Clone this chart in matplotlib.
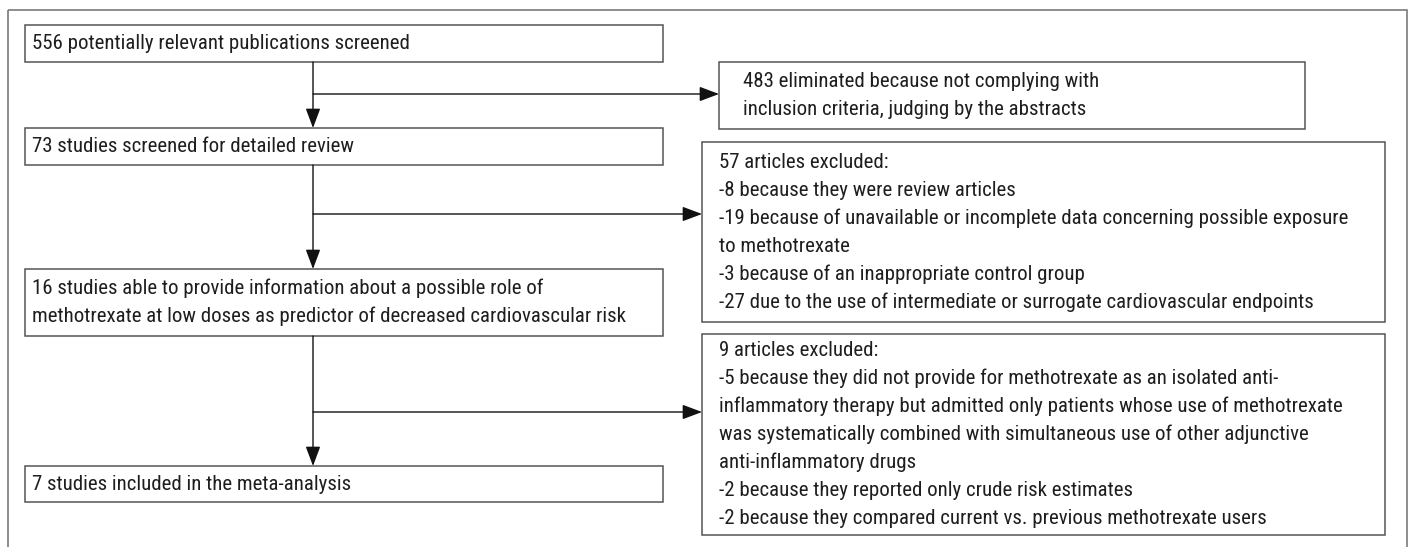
import matplotlib.pyplot as plt
from matplotlib.patches import Rectangle, FancyArrowPatch

plt.rcParams['font.family'] = ['Roboto Condensed', 'Liberation Sans Narrow', 'DejaVu Sans']

# box texts, one list of lines per box
main_texts = [
    ["556 potentially relevant publications screened"],
    ["73 studies screened for detailed review"],
    ["16 studies able to provide information about a possible role of",
     "methotrexate at low doses as predictor of decreased cardiovascular risk"],
    ["7 studies included in the meta-analysis"],
]
side_texts = [
    ["483 eliminated because not complying with",
     "inclusion criteria, judging by the abstracts"],
    ["57 articles excluded:",
     "-8 because they were review articles",
     "-19 because of unavailable or incomplete data concerning possible exposure",
     "to methotrexate",
     "-3 because of an inappropriate control group",
     "-27 due to the use of intermediate or surrogate cardiovascular endpoints"],
    ["9 articles excluded:",
     "-5 because they did not provide for methotrexate as an isolated anti-",
     "inflammatory therapy but admitted only patients whose use of methotrexate",
     "was systematically combined with simultaneous use of other adjunctive",
     "anti-inflammatory drugs",
     "-2 because they reported only crude risk estimates",
     "-2 because they compared current vs. previous methotrexate users"],
]

# layout in pixel units (x0, y0, x1, y1)
main_boxes = [(25, 25, 663, 62), (25, 128, 663, 165), (25, 269, 663, 336), (25, 466, 663, 502)]
side_boxes = [(719, 62, 1305, 129), (702, 142, 1385, 322), (702, 334, 1385, 535)]
side_text_x = [743, 719, 719]
branch_y = [94, 214, 412]
spine_x = 313
line_gap = 28
txt_color = '#1e1e1e'

fig = plt.figure(figsize=(14.1, 5.47), dpi=100)
ax = fig.add_axes([0, 0, 1, 1])
ax.set_xlim(0, 1410)
ax.set_ylim(547, 0)
ax.axis('off')

# pick font size so the reference line is ~608 px wide, whichever font is found
probe = fig.text(0, 0, side_texts[1][5], fontsize=14)
w = probe.get_window_extent(renderer=fig.canvas.get_renderer()).width
probe.remove()
fs = min(14 * 608 / w, 15)

# outer frame (runs off the bottom)
ax.add_patch(Rectangle((8, 10), 1399, 560, fill=False, ec='#7a7a7a', lw=1.2))


def draw_box(b, lines, tx):
    x0, y0, x1, y1 = b
    ax.add_patch(Rectangle((x0, y0), x1 - x0, y1 - y0, fill=False, ec='#555555', lw=1.1))
    yc = (y0 + y1) / 2
    start = yc - line_gap * (len(lines) - 1) / 2
    for i, t in enumerate(lines):
        ax.text(tx, start + i * line_gap, t, fontsize=fs, color=txt_color, va='center', ha='left')


for b, lines in zip(main_boxes, main_texts):
    draw_box(b, lines, b[0] + 7)
for b, lines, tx in zip(side_boxes, side_texts, side_text_x):
    draw_box(b, lines, tx)


def arrow(p0, p1):
    ax.add_patch(FancyArrowPatch(p0, p1, arrowstyle='-|>,head_length=1.2,head_width=0.45',
                                 mutation_scale=10, color='#111111', lw=1.0, shrinkA=0, shrinkB=0))


# vertical flow
for upper, lower in zip(main_boxes[:-1], main_boxes[1:]):
    arrow((spine_x, upper[3]), (spine_x, lower[1]))

# branches to exclusion boxes
for y, sb in zip(branch_y, side_boxes):
    arrow((spine_x, y), (sb[0], y))

fig.savefig('out.png', dpi=100)
